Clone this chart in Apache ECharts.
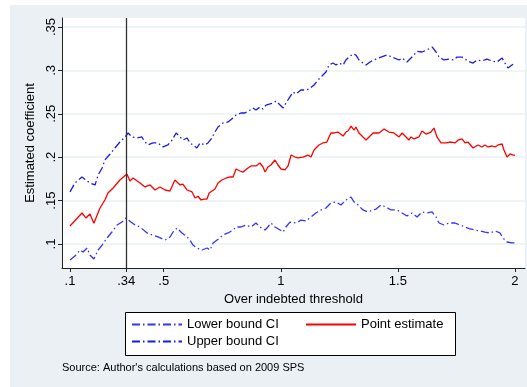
<!DOCTYPE html>
<html>
<head>
<meta charset="utf-8">
<script src="https://cdn.jsdelivr.net/npm/echarts@6/dist/echarts.min.js"></script>
<style>html,body{margin:0;padding:0;background:#fff}#c{width:527px;height:387px}</style>
</head>
<body>
<div id="c"></div>
<script>
// ---- data ----
var xTicks = [0.1, 0.34, 0.5, 1, 1.5, 2];
var yTicks = [0.1, 0.15, 0.2, 0.25, 0.3, 0.35];
var threshold = 0.34;

var pointX = [0.100,0.151,0.168,0.185,0.202,0.228,0.249,0.262,0.284,0.313,0.343,0.356,0.369,0.399,0.420,0.442,0.463,0.484,0.506,0.527,0.548,0.570,0.582,0.600,0.621,0.634,0.647,0.659,0.672,0.685,0.694,0.719,0.732,0.749,0.766,0.783,0.796,0.809,0.826,0.839,0.860,0.873,0.881,0.894,0.911,0.924,0.933,0.945,0.958,0.975,0.988,1.001,1.018,1.031,1.044,1.061,1.074,1.095,1.116,1.129,1.142,1.163,1.180,1.197,1.206,1.214,1.227,1.244,1.249,1.266,1.278,1.287,1.300,1.313,1.321,1.334,1.351,1.364,1.377,1.394,1.407,1.419,1.441,1.462,1.483,1.505,1.518,1.535,1.547,1.556,1.569,1.590,1.603,1.620,1.641,1.654,1.667,1.684,1.705,1.727,1.744,1.757,1.774,1.787,1.799,1.821,1.842,1.859,1.872,1.885,1.902,1.915,1.928,1.945,1.953,1.966,1.979,1.992,2.000];
var pointY = [0.1207,0.1357,0.1300,0.1346,0.1240,0.1415,0.1507,0.1588,0.1645,0.1737,0.1806,0.1726,0.1760,0.1703,0.1657,0.1680,0.1622,0.1657,0.1622,0.1610,0.1737,0.1680,0.1691,0.1622,0.1600,0.1530,0.1550,0.1507,0.1518,0.1518,0.1588,0.1634,0.1703,0.1737,0.1760,0.1772,0.1772,0.1864,0.1841,0.1829,0.1876,0.1899,0.1876,0.1899,0.1933,0.1887,0.1829,0.1887,0.1910,0.1968,0.1910,0.1864,0.1853,0.1899,0.2025,0.2002,0.1991,0.2002,0.2025,0.2002,0.2083,0.2141,0.2164,0.2175,0.2233,0.2279,0.2279,0.2290,0.2279,0.2244,0.2290,0.2302,0.2359,0.2313,0.2348,0.2279,0.2233,0.2198,0.2233,0.2279,0.2279,0.2279,0.2325,0.2290,0.2279,0.2233,0.2279,0.2233,0.2198,0.2233,0.2210,0.2233,0.2302,0.2267,0.2290,0.2336,0.2233,0.2164,0.2164,0.2175,0.2164,0.2198,0.2210,0.2164,0.2175,0.2106,0.2141,0.2118,0.2141,0.2118,0.2129,0.2118,0.2141,0.2152,0.2083,0.2002,0.2037,0.2025,0.2025];

var upperX = [0.100,0.121,0.151,0.168,0.185,0.207,0.220,0.237,0.249,0.271,0.292,0.313,0.335,0.348,0.365,0.386,0.407,0.420,0.433,0.454,0.476,0.497,0.518,0.536,0.553,0.570,0.582,0.600,0.612,0.625,0.642,0.655,0.676,0.689,0.706,0.719,0.732,0.753,0.775,0.796,0.809,0.830,0.847,0.869,0.881,0.894,0.911,0.924,0.937,0.954,0.967,0.980,0.997,1.010,1.022,1.039,1.052,1.065,1.086,1.108,1.121,1.142,1.159,1.180,1.193,1.206,1.223,1.236,1.249,1.266,1.278,1.291,1.308,1.321,1.334,1.351,1.364,1.381,1.398,1.428,1.454,1.475,1.505,1.518,1.539,1.560,1.582,1.603,1.624,1.646,1.663,1.676,1.697,1.718,1.740,1.752,1.774,1.787,1.799,1.821,1.838,1.859,1.880,1.902,1.923,1.945,1.957,1.970,1.987,2.000];
var upperY = [0.1600,0.1703,0.1772,0.1737,0.1703,0.1680,0.1795,0.1876,0.1968,0.2037,0.2106,0.2175,0.2233,0.2279,0.2233,0.2221,0.2233,0.2175,0.2141,0.2164,0.2164,0.2118,0.2141,0.2198,0.2279,0.2233,0.2198,0.2221,0.2164,0.2141,0.2106,0.2164,0.2141,0.2164,0.2221,0.2290,0.2348,0.2394,0.2406,0.2452,0.2486,0.2509,0.2509,0.2544,0.2567,0.2544,0.2578,0.2555,0.2601,0.2613,0.2624,0.2647,0.2601,0.2567,0.2624,0.2694,0.2751,0.2728,0.2774,0.2774,0.2786,0.2832,0.2889,0.2947,0.2982,0.3062,0.3085,0.3062,0.3085,0.3062,0.3120,0.3154,0.3189,0.3177,0.3120,0.3085,0.3062,0.3097,0.3120,0.3154,0.3177,0.3154,0.3120,0.3143,0.3097,0.3154,0.3220,0.3212,0.3235,0.3270,0.3212,0.3154,0.3120,0.3131,0.3120,0.3154,0.3154,0.3131,0.3108,0.3085,0.3120,0.3108,0.3131,0.3108,0.3097,0.3143,0.3085,0.3028,0.3062,0.3085];

var lowerX = [0.100,0.121,0.143,0.156,0.173,0.185,0.202,0.220,0.237,0.258,0.279,0.301,0.322,0.339,0.360,0.378,0.399,0.429,0.450,0.476,0.506,0.527,0.540,0.557,0.578,0.600,0.612,0.625,0.642,0.664,0.685,0.698,0.711,0.728,0.740,0.753,0.775,0.796,0.809,0.830,0.851,0.873,0.894,0.911,0.933,0.945,0.958,0.975,0.997,1.010,1.022,1.039,1.052,1.074,1.086,1.108,1.129,1.150,1.172,1.193,1.214,1.236,1.257,1.278,1.300,1.313,1.330,1.351,1.372,1.394,1.407,1.428,1.449,1.471,1.496,1.518,1.539,1.560,1.582,1.603,1.624,1.646,1.663,1.676,1.697,1.718,1.744,1.765,1.787,1.808,1.829,1.851,1.872,1.893,1.915,1.936,1.949,1.966,1.987,2.000];
var lowerY = [0.0816,0.0862,0.0931,0.0908,0.0954,0.0873,0.0827,0.0931,0.0988,0.1069,0.1138,0.1219,0.1253,0.1300,0.1253,0.1219,0.1196,0.1127,0.1104,0.1081,0.1046,0.1081,0.1138,0.1184,0.1127,0.1081,0.1046,0.0988,0.0954,0.0931,0.0954,0.0931,0.1012,0.1046,0.1069,0.1104,0.1127,0.1161,0.1196,0.1196,0.1219,0.1196,0.1242,0.1196,0.1161,0.1196,0.1242,0.1196,0.1161,0.1138,0.1196,0.1253,0.1242,0.1253,0.1276,0.1265,0.1311,0.1357,0.1392,0.1415,0.1472,0.1484,0.1449,0.1507,0.1541,0.1484,0.1449,0.1392,0.1369,0.1392,0.1403,0.1449,0.1426,0.1392,0.1392,0.1357,0.1323,0.1357,0.1311,0.1369,0.1357,0.1369,0.1311,0.1242,0.1219,0.1242,0.1242,0.1219,0.1196,0.1173,0.1161,0.1150,0.1138,0.1127,0.1150,0.1127,0.1069,0.1023,0.1012,0.1012];

function zip(xs, ys) { return xs.map(function (x, i) { return [x, ys[i]]; }); }
function stataFmt(v) { return String(+v.toFixed(4)).replace(/^0\./, '.'); }

var BG = '#eaf0f3';
var FONT = 'Liberation Sans, Arial, sans-serif';
var dashDot = [8, 3, 1.5, 3];

var legendCommon = {
  orient: 'vertical', top: 318, itemWidth: 50, itemHeight: 14, itemGap: 4, padding: 0,
  itemStyle: { opacity: 0 },
  textStyle: { fontSize: 13, color: '#000', fontFamily: FONT }
};

var chart = echarts.init(document.getElementById('c'), null, { renderer: 'canvas' });
chart.setOption({
  animation: false,
  backgroundColor: '#ffffff',
  textStyle: { fontFamily: FONT },
  graphic: [
    { type: 'rect', z: -100, silent: true, shape: { x: 10, y: 5, width: 517, height: 382 }, style: { fill: BG } },
    { type: 'rect', z: 3, silent: true, shape: { x: 125.5, y: 312.5, width: 330, height: 43 }, style: { fill: '#fff', stroke: '#000', lineWidth: 1 } }
  ],
  title: {
    text: "Source: Author's calculations based on 2009 SPS",
    left: 62, top: 362, padding: 0,
    textStyle: { fontSize: 11, fontWeight: 'normal', color: '#000', fontFamily: FONT }
  },
  grid: { left: 62, top: 18, right: 2, bottom: 119, show: true, backgroundColor: '#fff', borderWidth: 0 },
  xAxis: {
    type: 'value', min: 0.0658, max: 2.0428,
    name: 'Over indebted threshold', nameLocation: 'middle', nameGap: 22,
    nameTextStyle: { fontSize: 13, color: '#000', fontFamily: FONT },
    axisLine: { show: true, onZero: false, lineStyle: { color: '#222', width: 1 } },
    axisTick: { show: true, length: 4, customValues: xTicks, lineStyle: { color: '#222' } },
    axisLabel: { customValues: xTicks, margin: 7, fontSize: 13, color: '#000', formatter: stataFmt },
    splitLine: { show: false }
  },
  yAxis: {
    type: 'value', min: 0.07235, max: 0.36037,
    name: 'Estimated coefficient', nameLocation: 'middle', nameGap: 13, nameRotate: 90,
    nameTextStyle: { fontSize: 13, color: '#000', fontFamily: FONT },
    axisLine: { show: true, lineStyle: { color: '#222', width: 1 } },
    axisTick: { show: true, length: 4, customValues: yTicks, lineStyle: { color: '#222' } },
    axisLabel: { customValues: yTicks, rotate: 90, margin: 4, fontSize: 13, color: '#000', formatter: stataFmt },
    splitLine: { show: true, lineStyle: { color: BG, width: 1.5 } }
  },
  legend: [
    Object.assign({ data: ['Lower bound CI', 'Upper bound CI'], left: 131 }, legendCommon),
    Object.assign({ data: ['Point estimate'], left: 305 }, legendCommon)
  ],
  series: [
    {
      name: 'Lower bound CI', type: 'line', data: zip(lowerX, lowerY), symbol: 'none',
      lineStyle: { color: '#3333ff', width: 1.3, type: dashDot }, itemStyle: { color: '#3333ff' }
    },
    {
      name: 'Point estimate', type: 'line', data: zip(pointX, pointY), symbol: 'none',
      lineStyle: { color: '#ff0000', width: 1.3 }, itemStyle: { color: '#ff0000' },
      markLine: {
        silent: true, symbol: 'none', label: { show: false },
        lineStyle: { color: '#333', width: 1.3, type: 'solid' },
        data: [{ xAxis: threshold }]
      }
    },
    {
      name: 'Upper bound CI', type: 'line', data: zip(upperX, upperY), symbol: 'none',
      lineStyle: { color: '#1a1ae6', width: 1.3, type: dashDot }, itemStyle: { color: '#1a1ae6' }
    }
  ]
});
</script>
</body>
</html>
